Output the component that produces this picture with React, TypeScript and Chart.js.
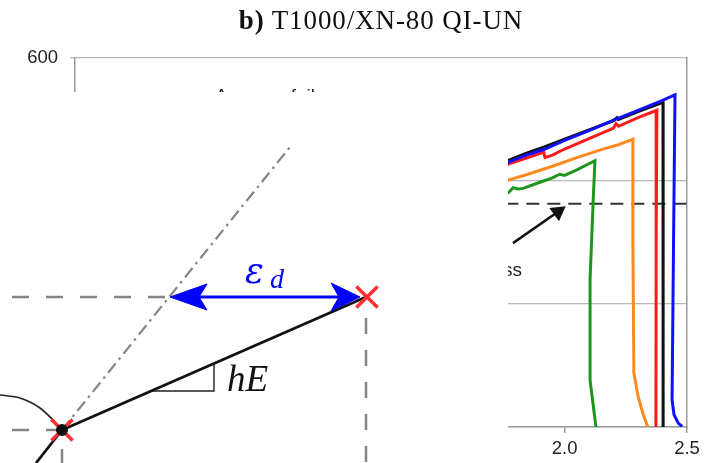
import React, { useEffect, useRef } from "react";
import { Chart, registerables } from "chart.js";
Chart.register(...registerables);

// ---------- main chart data (strain %, stress MPa) ----------
const blueStrain = [0, 1.773, 1.85, 1.92, 2.0, 2.1, 2.2, 2.3, 2.4, 2.451, 2.445, 2.439, 2.447, 2.465, 2.48];
const blueStress = [0, 431, 443, 452, 466, 482, 499, 515, 531, 540, 300, 44, 20, 6, 1];
const blackStrain = [0, 1.773, 1.85, 1.92, 2.0, 2.1, 2.2, 2.214, 2.22, 2.3, 2.402, 2.402, 2.403];
const blackStress = [0, 434, 446, 456, 468, 483, 498, 503, 500, 513, 528, 300, 0];
const redStrain = [0, 1.773, 1.85, 1.915, 1.92, 1.95, 2.0, 2.1, 2.2, 2.21, 2.22, 2.3, 2.377, 2.374, 2.373];
const redStress = [0, 428, 438, 447, 438, 442, 452, 469, 486, 493, 489, 503, 515, 300, 0];
const orangeStrain = [0, 1.773, 1.85, 1.95, 2.05, 2.15, 2.22, 2.279, 2.279, 2.283, 2.3, 2.32, 2.34];
const orangeStress = [0, 402, 411, 424, 438, 451, 459, 468, 300, 88, 50, 22, 0];
const greenStrain = [0, 1.773, 1.79, 1.81, 1.83, 1.9, 1.95, 1.98, 2.0, 2.05, 2.124, 2.118, 2.104, 2.104, 2.128];
const greenStress = [0, 382, 389, 387, 388, 398, 405, 411, 409, 418, 433, 380, 239, 76, 0];
const avgStrain = [0.9, 2.5];
const avgStress = [363, 363];
const arrowStrain = [1.789, 1.973];
const arrowStress = [299, 350];
const xTicks = [0, 0.5, 1.0, 1.5, 2.0, 2.5];
const yTicks = [0, 200, 400, 600];
const titleBold = "b)";
const titleRest = " T1000/XN-80 QI-UN";
const noteTop = "Average failure";
const noteBottom = "stress";

// ---------- overlay diagram data (diagram units) ----------
const dashDotX = [62, 290];
const dashDotY = [33, 316];
const guideTopX = [12, 170];
const guideTopY = [166, 166];
const guideLowX = [12, 62];
const guideLowY = [33, 33];
const guideRightX = [366, 366];
const guideRightY = [145, 0];
const guideLeftX = [62, 62];
const guideLeftY = [14, 0];
const hardenX = [62, 366];
const hardenY = [33, 166];
const slopeX = [152, 214, 214];
const slopeY = [72, 72, 99];
const curveX = [0, 20, 40, 55, 62];
const curveY = [68, 65, 55, 41, 33];
const lowerX = [62, 36];
const lowerY = [33, 0];
const shaftX = [178, 352];
const shaftY = [166, 166];
const headRX = [360, 331, 339, 331, 360];
const headRY = [166, 180, 166, 152, 166];
const headLX = [170, 207, 199, 207, 170];
const headLY = [166, 179, 166, 153, 166];
const failX = [367, 62];
const failY = [166, 33];
const dotX = [62];
const dotY = [33];
const epsLabel = { x: 245, y: 180, t: "ε", sub: "d", subX: 270, subY: 175 };
const hELabel = { x: 227, y: 72, t: "hE" };

const pts = (xs: number[], ys: number[]) => xs.map((x, i) => ({ x, y: ys[i] }));

export default function App() {
  const mainRef = useRef<HTMLCanvasElement>(null);
  const overRef = useRef<HTMLCanvasElement>(null);

  useEffect(() => {
    document.body.style.margin = "0";
    const textPlugin = {
      id: "notes",
      afterDatasetsDraw(chart: any) {
        const { ctx, scales } = chart;
        ctx.save();
        ctx.fillStyle = "#222";
        ctx.font = "19px 'Liberation Sans', Arial, sans-serif";
        ctx.textBaseline = "alphabetic";
        ctx.textAlign = "left";
        ctx.fillText(noteTop, scales.x.getPixelForValue(0.572), scales.y.getPixelForValue(528));
        ctx.textAlign = "right";
        ctx.fillText(noteBottom, scales.x.getPixelForValue(1.826), scales.y.getPixelForValue(245));
        ctx.restore();
      },
    };
    const line = (xs: number[], ys: number[], color: string, extra: any = {}) => ({
      data: pts(xs, ys),
      borderColor: color,
      backgroundColor: color,
      borderWidth: 3,
      pointRadius: 0,
      showLine: true,
      tension: 0,
      ...extra,
    });
    const tickFont = { family: "'Liberation Sans', Arial, sans-serif", size: 18.5 };
    const main = new Chart(mainRef.current!, {
      type: "scatter",
      data: {
        datasets: [
          line(arrowStrain, arrowStress, "#111", {
            pointRadius: [0, 7],
            pointStyle: "triangle",
            rotation: 54,
            borderWidth: 2.5,
          }),
          line(blueStrain, blueStress, "#1010ff"),
          line(blackStrain, blackStress, "#111111"),
          line(redStrain, redStress, "#ff1a1a"),
          line(orangeStrain, orangeStress, "#ff8a1f"),
          line(greenStrain, greenStress, "#1e961e"),
          line(avgStrain, avgStress, "#333333", { borderDash: [13, 8], borderWidth: 2 }),
        ],
      },
      options: {
        animation: false,
        responsive: false,
        events: [],
        layout: { autoPadding: false, padding: { top: 58, left: 0, right: 0, bottom: 0 } },
        plugins: { legend: { display: false }, tooltip: { enabled: false }, title: { display: false } },
        scales: {
          x: {
            type: "linear",
            min: 0,
            max: 2.5,
            afterBuildTicks: (s: any) => { s.ticks = xTicks.map((v) => ({ value: v })); },
            afterFit: (s: any) => { s.height = 36; },
            ticks: {
              callback: (v: any) => Number(v).toFixed(1),
              font: tickFont,
              color: "#222",
              padding: 5,
              maxRotation: 0,
            },
            grid: { drawOnChartArea: false, tickLength: 6, color: "#9a9a9a", lineWidth: 1.5 },
            border: { color: "#9a9a9a", width: 1.5 },
          },
          y: {
            type: "linear",
            min: 0,
            max: 600,
            afterBuildTicks: (s: any) => { s.ticks = yTicks.map((v) => ({ value: v })); },
            afterFit: (s: any) => { s.width = 75; },
            ticks: {
              font: tickFont,
              color: "#222",
              padding: 12,
            },
            grid: { color: "#b8b8b8", lineWidth: 1.3, tickLength: 5 },
            border: { color: "#9a9a9a", width: 1.5 },
          },
          yR: {
            type: "linear",
            position: "right",
            min: 0,
            max: 600,
            afterFit: (s: any) => { s.width = 23; },
            ticks: { display: false },
            grid: { display: false },
            border: { display: true, color: "#9a9a9a", width: 1.5 },
          },
        },
      },
      plugins: [textPlugin],
    });

    const overlayText = {
      id: "diagramText",
      afterDatasetsDraw(chart: any) {
        const { ctx, scales } = chart;
        const px = (v: number) => scales.x.getPixelForValue(v);
        const py = (v: number) => scales.y.getPixelForValue(v);
        ctx.save();
        ctx.textAlign = "left";
        ctx.textBaseline = "alphabetic";
        ctx.fillStyle = "#0000ff";
        ctx.font = "italic 35px 'DejaVu Serif', 'Liberation Serif', serif";
        ctx.fillText(epsLabel.t, px(epsLabel.x), py(epsLabel.y));
        ctx.font = "italic 28px 'Liberation Serif', serif";
        ctx.fillText(epsLabel.sub, px(epsLabel.subX), py(epsLabel.subY));
        ctx.fillStyle = "#111";
        ctx.font = "italic 37px 'Liberation Serif', serif";
        ctx.fillText(hELabel.t, px(hELabel.x), py(hELabel.y));
        ctx.restore();
      },
    };
    const whiteBg = {
      id: "whiteBg",
      beforeDraw(chart: any) {
        const { ctx, width, height } = chart;
        ctx.save();
        ctx.fillStyle = "#ffffff";
        ctx.fillRect(0, 0, width, height);
        ctx.restore();
      },
    };
    const gray = "#848484";
    const over = new Chart(overRef.current!, {
      type: "scatter",
      data: {
        datasets: [
          line(dotX, dotY, "#111", { pointRadius: 4.5, pointStyle: "circle", showLine: false }),
          line(failX, failY, "#ff3030", { pointRadius: 15, pointStyle: "crossRot", borderWidth: 3.5, showLine: false }),
          line(headRX, headRY, "#0000ff", { fill: "shape", borderWidth: 1 }),
          line(headLX, headLY, "#0000ff", { fill: "shape", borderWidth: 1 }),
          line(shaftX, shaftY, "#0000ff", { borderWidth: 3 }),
          line(hardenX, hardenY, "#111", { borderWidth: 2.8 }),
          line(lowerX, lowerY, "#111", { borderWidth: 2.8 }),
          line(curveX, curveY, "#222", { borderWidth: 1.6, tension: 0.4, cubicInterpolationMode: "monotone" }),
          line(slopeX, slopeY, "#222", { borderWidth: 1.4 }),
          line(dashDotX, dashDotY, gray, { borderDash: [12, 5, 2.5, 5], borderWidth: 2.2 }),
          line(guideTopX, guideTopY, gray, { borderDash: [17, 17], borderWidth: 2.5 }),
          line(guideLowX, guideLowY, gray, { borderDash: [17, 17], borderWidth: 2.5 }),
          line(guideRightX, guideRightY, gray, { borderDash: [16, 16], borderWidth: 2.5 }),
          line(guideLeftX, guideLeftY, gray, { borderDash: [16, 16], borderWidth: 2.5 }),
        ],
      },
      options: {
        animation: false,
        responsive: false,
        events: [],
        layout: { autoPadding: false, padding: 0 },
        plugins: { legend: { display: false }, tooltip: { enabled: false } },
        scales: {
          x: { type: "linear", min: 0, max: 508, display: false },
          y: { type: "linear", min: 0, max: 371, display: false },
        },
      },
      plugins: [whiteBg, overlayText],
    });

    return () => {
      main.destroy();
      over.destroy();
    };
  }, []);

  return (
    <div style={{ position: "fixed", left: 0, top: 0, width: 710, height: 463, background: "#fff", overflow: "hidden" }}>
      <canvas ref={mainRef} width={710} height={463} style={{ position: "absolute", left: 0, top: 0, width: 710, height: 463 }} />
      <div
        style={{
          position: "absolute",
          left: 75,
          top: 7,
          width: 612,
          textAlign: "center",
          fontFamily: "'Liberation Serif', 'Times New Roman', serif",
          fontSize: 27,
          letterSpacing: "0.9px",
          lineHeight: "27px",
          color: "#111",
          whiteSpace: "nowrap",
        }}
      >
        <b>{titleBold}</b>
        {titleRest}
      </div>
      <canvas ref={overRef} width={508} height={371} style={{ position: "absolute", left: 0, top: 92, width: 508, height: 371 }} />
    </div>
  );
}
